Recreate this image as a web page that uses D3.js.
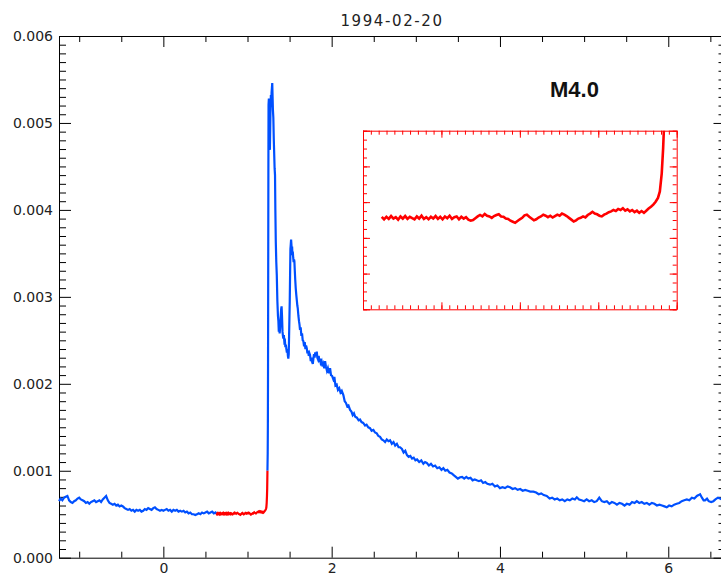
<!DOCTYPE html>
<html>
<head>
<meta charset="utf-8">
<script src="https://cdn.jsdelivr.net/npm/d3@7"></script>
<style>
  body { margin: 0; background: #fff; }
  svg { display: block; }
</style>
</head>
<body>
<div id="chart"></div>
<script>
// GOES 1-8 A flux around the 1994-02-20 M4.0 flare
// [time, flux] pairs

const title = "1994-02-20";
const flareClass = "M4.0";

// quiet sun before the event (blue)
const preflare = [
  [-1.24,6.5e-4],[-1.22,6.8e-4],[-1.20,6.6e-4],[-1.18,6.9e-4],[-1.16,7.0e-4],[-1.14,7.1e-4],
  [-1.12,6.6e-4],[-1.10,6.4e-4],[-1.08,6.3e-4],[-1.06,6.5e-4],[-1.04,6.6e-4],[-1.02,6.8e-4],
  [-1.00,6.9e-4],[-0.98,6.7e-4],[-0.96,6.6e-4],[-0.94,6.5e-4],[-0.92,6.3e-4],[-0.90,6.4e-4],
  [-0.88,6.2e-4],[-0.86,6.4e-4],[-0.84,6.5e-4],[-0.82,6.6e-4],[-0.80,6.4e-4],[-0.78,6.5e-4],
  [-0.76,6.6e-4],[-0.74,6.4e-4],[-0.72,6.7e-4],[-0.70,6.9e-4],[-0.68,7.1e-4],[-0.66,6.6e-4],
  [-0.64,6.3e-4],[-0.62,6.2e-4],[-0.60,6.1e-4],[-0.58,6.2e-4],[-0.56,6.0e-4],[-0.54,6.1e-4],
  [-0.52,5.9e-4],[-0.50,6.0e-4],[-0.48,5.9e-4],[-0.46,5.7e-4],[-0.44,5.6e-4],[-0.42,5.5e-4],
  [-0.40,5.6e-4],[-0.38,5.4e-4],[-0.36,5.5e-4],[-0.34,5.3e-4],[-0.32,5.5e-4],[-0.30,5.4e-4],
  [-0.28,5.5e-4],[-0.26,5.3e-4],[-0.24,5.4e-4],[-0.22,5.6e-4],[-0.20,5.5e-4],[-0.18,5.7e-4],
  [-0.16,5.6e-4],[-0.14,5.5e-4],[-0.12,5.7e-4],[-0.10,5.8e-4],[-0.08,5.6e-4],[-0.06,5.5e-4],
  [-0.04,5.4e-4],[-0.02,5.5e-4],[0.00,5.4e-4],[0.02,5.5e-4],[0.04,5.6e-4],[0.06,5.4e-4],
  [0.08,5.5e-4],[0.10,5.3e-4],[0.12,5.5e-4],[0.14,5.4e-4],[0.16,5.5e-4],[0.18,5.3e-4],
  [0.20,5.4e-4],[0.22,5.3e-4],[0.24,5.4e-4],[0.26,5.2e-4],[0.28,5.3e-4],[0.30,5.1e-4],
  [0.32,5.2e-4],[0.34,5.0e-4],[0.36,5.0e-4],[0.38,4.9e-4],[0.40,5.0e-4],[0.42,5.1e-4],
  [0.44,5.0e-4],[0.46,5.2e-4],[0.48,5.1e-4],[0.50,5.2e-4],[0.52,5.3e-4],[0.54,5.1e-4],
  [0.56,5.2e-4],[0.58,5.3e-4],[0.60,5.1e-4],[0.62,5.2e-4],[0.63,5.09e-4]
];

// pre-flare interval shown in the inset (red)
const onset = [
  [0.630,5.09e-4],[0.635,5.02e-4],[0.640,5.09e-4],[0.645,5.03e-4],[0.650,5.11e-4],[0.655,5.04e-4],
  [0.660,5.08e-4],[0.665,5.01e-4],[0.670,5.10e-4],[0.675,5.04e-4],[0.680,5.11e-4],[0.685,5.03e-4],
  [0.690,5.09e-4],[0.695,5.05e-4],[0.700,5.02e-4],[0.705,5.10e-4],[0.710,5.04e-4],[0.715,5.12e-4],
  [0.720,5.03e-4],[0.725,5.08e-4],[0.730,5.02e-4],[0.735,5.09e-4],[0.740,5.04e-4],[0.745,5.11e-4],
  [0.750,5.03e-4],[0.755,5.09e-4],[0.760,5.02e-4],[0.765,5.10e-4],[0.770,5.05e-4],[0.775,5.12e-4],
  [0.780,5.03e-4],[0.785,5.08e-4],[0.790,5.10e-4],[0.795,5.02e-4],[0.800,5.09e-4],[0.805,5.04e-4],
  [0.810,5.08e-4],[0.815,5.01e-4],[0.820,4.98e-4],[0.825,5.00e-4],[0.830,5.05e-4],[0.835,5.10e-4],
  [0.840,5.14e-4],[0.845,5.10e-4],[0.850,5.17e-4],[0.855,5.12e-4],[0.860,5.10e-4],[0.865,5.06e-4],
  [0.870,5.11e-4],[0.875,5.14e-4],[0.880,5.16e-4],[0.885,5.10e-4],[0.890,5.09e-4],[0.895,5.04e-4],
  [0.900,5.03e-4],[0.905,4.98e-4],[0.910,4.95e-4],[0.915,4.92e-4],[0.920,4.97e-4],[0.925,5.02e-4],
  [0.930,5.06e-4],[0.935,5.13e-4],[0.940,5.15e-4],[0.945,5.09e-4],[0.950,5.04e-4],[0.955,4.99e-4],
  [0.960,5.02e-4],[0.965,5.07e-4],[0.970,5.10e-4],[0.975,5.15e-4],[0.980,5.12e-4],[0.985,5.08e-4],
  [0.990,5.12e-4],[0.995,5.07e-4],[1.000,5.11e-4],[1.005,5.15e-4],[1.010,5.12e-4],[1.015,5.18e-4],
  [1.020,5.15e-4],[1.025,5.11e-4],[1.030,5.06e-4],[1.035,5.01e-4],[1.040,4.96e-4],[1.045,4.99e-4],
  [1.050,5.04e-4],[1.055,5.06e-4],[1.060,5.10e-4],[1.065,5.07e-4],[1.070,5.14e-4],[1.075,5.18e-4],
  [1.080,5.23e-4],[1.085,5.18e-4],[1.090,5.16e-4],[1.095,5.12e-4],[1.100,5.10e-4],[1.105,5.15e-4],
  [1.110,5.18e-4],[1.115,5.22e-4],[1.120,5.24e-4],[1.125,5.28e-4],[1.130,5.25e-4],[1.135,5.31e-4],
  [1.140,5.28e-4],[1.145,5.33e-4],[1.150,5.26e-4],[1.155,5.30e-4],[1.160,5.24e-4],[1.165,5.28e-4],
  [1.170,5.22e-4],[1.175,5.26e-4],[1.180,5.20e-4],[1.185,5.25e-4],[1.190,5.20e-4],[1.195,5.26e-4],
  [1.200,5.32e-4],[1.205,5.37e-4],[1.210,5.43e-4],[1.215,5.51e-4],[1.220,5.62e-4],[1.224,5.80e-4],
  [1.228,6.30e-4],[1.231,7.00e-4],[1.234,8.00e-4],[1.237,1.00e-3]
];

// impulsive phase and decay (blue)
const flare = [
  [1.237,10.0e-4],[1.240,12.0e-4],[1.242,15.3e-4],[1.244,22.0e-4],[1.246,33.0e-4],[1.248,44.0e-4],
  [1.250,52.1e-4],[1.254,52.8e-4],[1.258,50.0e-4],[1.262,47.5e-4],[1.266,46.9e-4],[1.270,49.5e-4],
  [1.274,52.0e-4],[1.278,53.2e-4],[1.282,51.8e-4],[1.286,53.5e-4],[1.290,54.0e-4],[1.294,54.6e-4],
  [1.298,53.0e-4],[1.302,51.5e-4],[1.307,50.6e-4],[1.312,48.2e-4],[1.317,46.5e-4],[1.322,44.8e-4],
  [1.327,44.0e-4],[1.331,40.0e-4],[1.336,36.4e-4],[1.342,34.0e-4],[1.348,32.5e-4],[1.355,29.5e-4],
  [1.362,27.8e-4],[1.367,27.2e-4],[1.372,26.0e-4],[1.377,26.8e-4],[1.382,25.8e-4],[1.387,26.4e-4],
  [1.393,27.5e-4],[1.400,28.6e-4],[1.405,28.9e-4],[1.410,27.8e-4],[1.416,26.0e-4],[1.421,25.5e-4],
  [1.426,25.2e-4],[1.432,25.6e-4],[1.438,24.8e-4],[1.445,24.9e-4],[1.450,24.2e-4],[1.455,24.5e-4],
  [1.462,24.0e-4],[1.468,23.6e-4],[1.474,24.0e-4],[1.480,23.2e-4],[1.485,22.9e-4],[1.490,23.4e-4],
  [1.494,25.5e-4],[1.498,27.5e-4],[1.502,29.5e-4],[1.506,32.5e-4],[1.510,35.5e-4],[1.514,36.0e-4],
  [1.518,36.6e-4],[1.522,36.0e-4],[1.526,35.2e-4],[1.530,35.8e-4],[1.534,34.8e-4],[1.538,35.2e-4],
  [1.543,34.5e-4],[1.548,34.0e-4],[1.553,34.3e-4],[1.557,34.1e-4],[1.562,33.0e-4],[1.567,32.0e-4],
  [1.573,31.0e-4],[1.580,30.2e-4],[1.587,29.5e-4],[1.592,29.0e-4],[1.597,28.7e-4],[1.605,27.8e-4],
  [1.612,27.2e-4],[1.618,26.8e-4],[1.624,26.2e-4],[1.632,26.5e-4],[1.640,25.5e-4],[1.648,25.8e-4],
  [1.656,25.0e-4],[1.664,24.9e-4],[1.672,24.3e-4],[1.680,24.8e-4],[1.688,24.0e-4],[1.696,24.4e-4],
  [1.704,24.1e-4],[1.712,23.5e-4],[1.720,23.8e-4],[1.728,23.2e-4],[1.736,23.5e-4],[1.743,23.3e-4],
  [1.752,22.6e-4],[1.760,23.0e-4],[1.768,22.5e-4],[1.776,22.3e-4],[1.783,22.9e-4],[1.790,23.4e-4],
  [1.797,23.0e-4],[1.805,23.6e-4],[1.812,23.2e-4],[1.823,23.7e-4],[1.830,23.0e-4],[1.838,22.8e-4],
  [1.846,23.2e-4],[1.855,22.5e-4],[1.862,22.9e-4],[1.870,22.4e-4],[1.880,22.6e-4],[1.890,22.0e-4],
  [1.900,22.3e-4],[1.912,21.8e-4],[1.922,22.6e-4],[1.932,22.0e-4],[1.944,21.5e-4],[1.955,21.8e-4],
  [1.968,21.2e-4],[1.981,21.8e-4],[1.992,21.0e-4],[2.005,20.9e-4],[2.020,20.5e-4],[2.032,20.8e-4],
  [2.045,19.8e-4],[2.060,19.9e-4],[2.075,19.3e-4],[2.090,19.5e-4],[2.105,19.0e-4],[2.120,19.2e-4],
  [2.139,18.7e-4],[2.155,18.0e-4],[2.170,17.8e-4],[2.185,17.4e-4],[2.200,17.5e-4],[2.219,17.0e-4],
  [2.235,16.8e-4],[2.250,16.4e-4],[2.265,16.6e-4],[2.280,16.2e-4],[2.300,16.1e-4],[2.320,15.8e-4],
  [2.337,15.9e-4],[2.355,15.6e-4],[2.375,15.5e-4],[2.397,15.2e-4],[2.415,15.3e-4],[2.435,15.0e-4],
  [2.456,14.9e-4],[2.475,14.6e-4],[2.496,14.7e-4],[2.515,14.4e-4],[2.536,14.3e-4],[2.555,14.0e-4],
  [2.575,13.9e-4],[2.595,13.6e-4],[2.614,13.5e-4],[2.635,13.3e-4],[2.655,13.6e-4],[2.675,13.4e-4],
  [2.694,13.5e-4],[2.715,13.1e-4],[2.735,13.3e-4],[2.755,12.9e-4],[2.775,13.1e-4],[2.795,12.7e-4],
  [2.813,12.7e-4],[2.835,12.5e-4],[2.855,12.1e-4],[2.875,12.3e-4],[2.895,11.8e-4],[2.915,11.6e-4],
  [2.935,11.7e-4],[2.955,11.4e-4],[2.975,11.5e-4],[2.995,11.2e-4],[3.015,11.3e-4],[3.040,11.0e-4],
  [3.065,11.2e-4],[3.090,10.8e-4],[3.110,11.0e-4],[3.130,10.9e-4],[3.155,10.6e-4],[3.180,10.8e-4],
  [3.205,10.5e-4],[3.229,10.6e-4],[3.255,10.3e-4],[3.280,10.4e-4],[3.305,10.1e-4],[3.327,10.3e-4],
  [3.350,10.0e-4],[3.375,10.1e-4],[3.400,9.8e-4],[3.427,9.7e-4],[3.450,9.5e-4],[3.475,9.3e-4],
  [3.500,9.1e-4],[3.527,9.25e-4],[3.550,9.3e-4],[3.575,9.1e-4],[3.600,9.3e-4],[3.624,9.1e-4],
  [3.650,9.2e-4],[3.675,8.9e-4],[3.700,9.0e-4],[3.724,8.9e-4],[3.750,8.8e-4],[3.775,8.9e-4],
  [3.800,8.6e-4],[3.825,8.7e-4],[3.850,8.5e-4],[3.882,8.4e-4],[3.910,8.5e-4],[3.940,8.2e-4],
  [3.970,8.3e-4],[4.000,8.0e-4],[4.030,8.1e-4],[4.060,8.0e-4],[4.090,8.2e-4],[4.120,8.1e-4],
  [4.150,7.9e-4],[4.180,8.0e-4],[4.210,7.8e-4],[4.240,7.9e-4],[4.270,7.7e-4],[4.300,7.8e-4],
  [4.330,7.7e-4],[4.360,7.6e-4],[4.397,7.6e-4],[4.430,7.5e-4],[4.460,7.3e-4],[4.490,7.4e-4],
  [4.520,7.2e-4],[4.556,7.1e-4],[4.590,6.8e-4],[4.620,6.9e-4],[4.650,6.7e-4],[4.680,6.8e-4],
  [4.710,6.6e-4],[4.740,6.7e-4],[4.770,6.5e-4],[4.800,6.7e-4],[4.830,6.6e-4],[4.860,6.8e-4],
  [4.890,6.7e-4],[4.913,6.95e-4],[4.940,6.7e-4],[4.970,6.6e-4],[5.000,6.5e-4],[5.030,6.7e-4],
  [5.060,6.5e-4],[5.090,6.6e-4],[5.120,6.4e-4],[5.150,6.5e-4],[5.180,6.9e-4],[5.210,6.5e-4],
  [5.240,6.4e-4],[5.270,6.5e-4],[5.300,6.2e-4],[5.330,6.4e-4],[5.360,6.3e-4],[5.390,6.1e-4],
  [5.420,6.3e-4],[5.450,6.2e-4],[5.480,6.0e-4],[5.507,6.2e-4],[5.540,6.1e-4],[5.570,6.4e-4],
  [5.600,6.3e-4],[5.626,6.5e-4],[5.655,6.3e-4],[5.685,6.4e-4],[5.715,6.2e-4],[5.745,6.3e-4],
  [5.775,6.1e-4],[5.805,6.3e-4],[5.835,6.2e-4],[5.865,6.0e-4],[5.895,6.1e-4],[5.925,6.0e-4],
  [5.955,5.9e-4],[5.982,5.8e-4],[6.010,6.0e-4],[6.040,5.9e-4],[6.070,6.1e-4],[6.100,6.2e-4],
  [6.130,6.3e-4],[6.160,6.5e-4],[6.190,6.6e-4],[6.220,6.7e-4],[6.250,6.6e-4],[6.280,6.9e-4],
  [6.310,6.8e-4],[6.340,7.1e-4],[6.360,7.2e-4],[6.378,7.3e-4],[6.400,6.9e-4],[6.420,6.6e-4],
  [6.437,6.6e-4],[6.460,6.8e-4],[6.480,6.5e-4],[6.510,6.4e-4],[6.536,6.5e-4],[6.560,6.7e-4],
  [6.590,6.9e-4],[6.615,6.8e-4],[6.640,6.7e-4],[6.670,6.8e-4]
];

// tick values
const xMajor = [0, 2, 4, 6];
const xMinor = [-1, -0.5, 0.5, 1, 1.5, 2.5, 3, 3.5, 4.5, 5, 5.5, 6.5];
const yMajor = [0, 0.001, 0.002, 0.003, 0.004, 0.005, 0.006];

const width = 721, height = 577;
const blue = "#0050ff", red = "#ff0000";
const font = "'DejaVu Sans', sans-serif";

const svg = d3.select("#chart").append("svg")
  .attr("width", width)
  .attr("height", height);

// main plot box (right edge runs just past the window)
const x = d3.scaleLinear().domain([-1.24, 6.68]).range([59, 725.5]);
const y = d3.scaleLinear().domain([0, 0.006]).range([557.7, 36]);
const yMinor = y.ticks(60).filter(d => !yMajor.some(m => Math.abs(m - d) < 1e-9));

function styleAxis(g, col) {
  g.attr("font-family", font).attr("font-size", 14);
  g.selectAll("path, line").attr("stroke", col).attr("stroke-width", 1);
  g.selectAll("text").attr("fill", "#222");
}

// left
svg.append("g").attr("transform", "translate(59,0)")
  .call(d3.axisLeft(y).tickValues(yMajor).tickSize(-12).tickSizeOuter(0).tickPadding(6).tickFormat(d3.format(".3f")))
  .call(g => styleAxis(g, "#000"));
svg.append("g").attr("transform", "translate(59,0)")
  .call(d3.axisLeft(y).tickValues(yMinor).tickSize(-7).tickFormat(""))
  .call(g => { g.select(".domain").remove(); styleAxis(g, "#000"); });
// right
svg.append("g").attr("transform", "translate(725.5,0)")
  .call(d3.axisRight(y).tickValues(yMajor).tickSize(-12).tickSizeOuter(0).tickFormat(""))
  .call(g => styleAxis(g, "#000"));
svg.append("g").attr("transform", "translate(725.5,0)")
  .call(d3.axisRight(y).tickValues(yMinor).tickSize(-7).tickFormat(""))
  .call(g => { g.select(".domain").remove(); styleAxis(g, "#000"); });
// bottom (labels kept just inside the window)
svg.append("g").attr("transform", "translate(0,557.7)")
  .call(d3.axisBottom(x).tickValues(xMajor).tickSize(-11).tickSizeOuter(0).tickPadding(5).tickFormat(d3.format("d")))
  .call(g => styleAxis(g, "#000"));
svg.append("g").attr("transform", "translate(0,557.7)")
  .call(d3.axisBottom(x).tickValues(xMinor).tickSize(-6).tickFormat(""))
  .call(g => { g.select(".domain").remove(); styleAxis(g, "#000"); });
// top
svg.append("g").attr("transform", "translate(0,36)")
  .call(d3.axisTop(x).tickValues(xMajor).tickSize(-11).tickSizeOuter(0).tickFormat(""))
  .call(g => styleAxis(g, "#000"));
svg.append("g").attr("transform", "translate(0,36)")
  .call(d3.axisTop(x).tickValues(xMinor).tickSize(-6).tickFormat(""))
  .call(g => { g.select(".domain").remove(); styleAxis(g, "#000"); });

// curves
const line = d3.line().x(d => x(d[0])).y(d => y(d[1]));
svg.append("path").datum(preflare).attr("d", line)
  .attr("fill", "none").attr("stroke", blue).attr("stroke-width", 2.2);
svg.append("path").datum(flare).attr("d", line)
  .attr("fill", "none").attr("stroke", blue).attr("stroke-width", 2.2);
svg.append("path").datum(onset).attr("d", line)
  .attr("fill", "none").attr("stroke", red).attr("stroke-width", 2.2);

// title and class
svg.append("text").attr("x", 392).attr("y", 26)
  .attr("text-anchor", "middle").attr("font-family", font).attr("font-size", 15)
  .attr("letter-spacing", 1.6).attr("fill", "#222").text(title);
svg.append("text").attr("x", 550).attr("y", 96.5)
  .attr("font-family", "'Liberation Sans', Arial, sans-serif").attr("font-weight", "bold")
  .attr("font-size", 22).attr("fill", "#111").text(flareClass);

// inset: zoom on the pre-flare interval
const xi = d3.scaleLinear().domain([0.59, 1.26]).range([363, 676.7]);
const yi = d3.scaleLinear().domain([0.00025, 0.00075]).range([309.3, 130.7]);
const xiMajor = d3.range(5).map(i => 0.59 + i * 0.1675);
const xiMinor = d3.range(41).map(i => 0.59 + i * 0.01675);
const yiMajor = d3.range(6).map(i => 0.00025 + i * 0.0001);
const yiMinor = d3.range(21).map(i => 0.00025 + i * 0.000025);

svg.append("clipPath").attr("id", "inset-clip")
  .append("rect").attr("x", 363).attr("y", 130.7).attr("width", 313.7).attr("height", 178.6);

const inset = svg.append("g");
const insetSides = [
  [() => d3.axisLeft(yi), "translate(363,0)", yiMinor, yiMajor],
  [() => d3.axisRight(yi), "translate(676.7,0)", yiMinor, yiMajor],
  [() => d3.axisBottom(xi), "translate(0,309.3)", xiMinor, xiMajor],
  [() => d3.axisTop(xi), "translate(0,130.7)", xiMinor, xiMajor]
];
insetSides.forEach(([mk, tr, minor, major]) => {
  inset.append("g").attr("transform", tr)
    .call(mk().tickValues(minor).tickSize(-4).tickSizeOuter(0).tickFormat(""))
    .call(g => styleAxis(g, red));
  inset.append("g").attr("transform", tr)
    .call(mk().tickValues(major).tickSize(-7).tickFormat(""))
    .call(g => { g.select(".domain").remove(); styleAxis(g, red); });
});

const lineInset = d3.line().x(d => xi(d[0])).y(d => yi(d[1]));
inset.append("path").datum(onset).attr("d", lineInset)
  .attr("clip-path", "url(#inset-clip)")
  .attr("fill", "none").attr("stroke", red).attr("stroke-width", 2.6);
</script>
</body>
</html>
